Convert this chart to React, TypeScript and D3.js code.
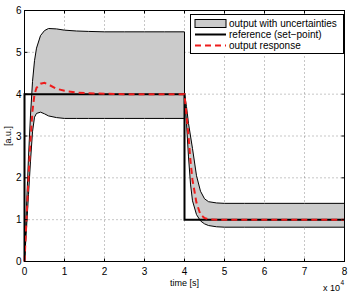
import React, { useRef, useEffect } from 'react';
import * as d3 from 'd3';

// time axis in units of 1e4 s
const bandTimes = [
  0, 0.05, 0.1, 0.15, 0.2, 0.25, 0.3, 0.4, 0.5, 0.6, 0.8, 1.0, 1.3, 1.6, 2.0, 2.5, 3.0, 3.5, 4.0,
  4.0, 4.05, 4.1, 4.15, 4.2, 4.3, 4.4, 4.5, 4.6, 4.8, 5.0, 5.5, 6.0, 7.0, 8.0,
];
const upperValues = [
  0, 1.3, 2.5, 3.5, 4.3, 4.8, 5.1, 5.4, 5.52, 5.57, 5.56, 5.53, 5.51, 5.5, 5.49, 5.49, 5.49, 5.49, 5.49,
  4.0, 3.7, 3.3, 3.0, 2.7, 2.05, 1.68, 1.5, 1.43, 1.4, 1.39, 1.39, 1.39, 1.39, 1.39,
];
const lowerValues = [
  0, 0.8, 1.6, 2.4, 3.1, 3.45, 3.54, 3.57, 3.53, 3.48, 3.44, 3.42, 3.42, 3.42, 3.42, 3.42, 3.42, 3.42, 3.42,
  4.0, 3.3, 2.5, 1.85, 1.45, 1.12, 0.97, 0.9, 0.86, 0.83, 0.82, 0.82, 0.82, 0.82, 0.82,
];
const outputValues = [
  0, 1.0, 2.0, 2.9, 3.6, 4.0, 4.15, 4.25, 4.27, 4.23, 4.13, 4.08, 4.04, 4.02, 4.01, 4.0, 4.0, 4.0, 4.0,
  4.0, 3.5, 3.0, 2.4, 1.95, 1.4, 1.12, 1.04, 1.01, 1.0, 1.0, 1.0, 1.0, 1.0, 1.0,
];

const refTimes = [0, 0, 4, 4, 8];
const refValues = [0, 4, 4, 1, 1];

const xTicks = [0, 1, 2, 3, 4, 5, 6, 7, 8];
const yTicks = [0, 1, 2, 3, 4, 5, 6];

const legendItems = [
  { label: 'output with uncertainties', kind: 'band' },
  { label: 'reference (set\u2212point)', kind: 'ref' },
  { label: 'output response', kind: 'out' },
];

const App: React.FC = () => {
  const svgRef = useRef<SVGSVGElement>(null);
  const width = 352;
  const height = 294;

  useEffect(() => {
    if (!svgRef.current) return;
    d3.select(svgRef.current).selectAll('*').remove();

    const svg = d3.select(svgRef.current);
    const font = '"Liberation Sans", Arial, sans-serif';

    const x = d3.scaleLinear().domain([0, 8]).range([24.5, 344.5]);
    const y = d3.scaleLinear().domain([0, 6]).range([261.5, 10.5]);

    const [x0, x1] = x.range();
    const [y0, y1] = y.range();

    // Grid
    const grid = svg.append('g');
    xTicks.slice(1, -1).forEach(t => {
      grid.append('line')
        .attr('x1', x(t)).attr('x2', x(t))
        .attr('y1', y0).attr('y2', y1)
        .attr('stroke', '#444').attr('stroke-width', 0.6)
        .attr('stroke-dasharray', '1,3');
    });
    yTicks.slice(1, -1).forEach(v => {
      grid.append('line')
        .attr('x1', x0).attr('x2', x1)
        .attr('y1', y(v)).attr('y2', y(v))
        .attr('stroke', '#444').attr('stroke-width', 0.6)
        .attr('stroke-dasharray', '1,3');
    });

    const idx = bandTimes.map((_, i) => i);

    // Uncertainty band
    const area = d3.area<number>()
      .x(i => x(bandTimes[i]))
      .y0(i => y(lowerValues[i]))
      .y1(i => y(upperValues[i]));
    svg.append('path')
      .attr('d', area(idx) || '')
      .attr('fill', '#cbcbcb');

    const bandLine = (vals: number[]) =>
      d3.line<number>().x(i => x(bandTimes[i])).y(i => y(vals[i]))(idx) || '';

    svg.append('path').attr('d', bandLine(upperValues))
      .attr('fill', 'none').attr('stroke', '#000').attr('stroke-width', 1);
    svg.append('path').attr('d', bandLine(lowerValues))
      .attr('fill', 'none').attr('stroke', '#000').attr('stroke-width', 1);

    // Reference
    const refLine = d3.line<number>()
      .x(i => x(refTimes[i]))
      .y(i => y(refValues[i]));
    svg.append('path')
      .attr('d', refLine(refTimes.map((_, i) => i)) || '')
      .attr('fill', 'none').attr('stroke', '#000').attr('stroke-width', 2);

    // Output response
    svg.append('path').attr('d', bandLine(outputValues))
      .attr('fill', 'none').attr('stroke', '#ee1c1c').attr('stroke-width', 2)
      .attr('stroke-dasharray', '6,4');

    // Frame
    svg.append('rect')
      .attr('x', x0).attr('y', y1)
      .attr('width', x1 - x0).attr('height', y0 - y1)
      .attr('fill', 'none').attr('stroke', '#000').attr('stroke-width', 1);

    // Ticks (inside, all sides)
    const tl = 3;
    xTicks.forEach(t => {
      svg.append('line').attr('x1', x(t)).attr('x2', x(t)).attr('y1', y0).attr('y2', y0 - tl)
        .attr('stroke', '#000').attr('stroke-width', 1);
      svg.append('line').attr('x1', x(t)).attr('x2', x(t)).attr('y1', y1).attr('y2', y1 + tl)
        .attr('stroke', '#000').attr('stroke-width', 1);
      svg.append('text')
        .attr('x', x(t)).attr('y', y0 + 13)
        .attr('text-anchor', 'middle')
        .attr('font-family', font).attr('font-size', 10)
        .text(t);
    });
    yTicks.forEach(v => {
      svg.append('line').attr('x1', x0).attr('x2', x0 + tl).attr('y1', y(v)).attr('y2', y(v))
        .attr('stroke', '#000').attr('stroke-width', 1);
      svg.append('line').attr('x1', x1).attr('x2', x1 - tl).attr('y1', y(v)).attr('y2', y(v))
        .attr('stroke', '#000').attr('stroke-width', 1);
      svg.append('text')
        .attr('x', x0 - 3).attr('y', y(v) + 3.5)
        .attr('text-anchor', 'end')
        .attr('font-family', font).attr('font-size', 10)
        .text(v);
    });

    // Axis labels
    svg.append('text')
      .attr('x', (x0 + x1) / 2).attr('y', 286)
      .attr('text-anchor', 'middle')
      .attr('font-family', font).attr('font-size', 9)
      .text('time [s]');
    svg.append('text')
      .attr('transform', `translate(11, ${(y0 + y1) / 2}) rotate(-90)`)
      .attr('text-anchor', 'middle')
      .attr('font-family', font).attr('font-size', 9)
      .text('[a.u.]');
    svg.append('text')
      .attr('x', 340).attr('y', 291)
      .attr('text-anchor', 'end')
      .attr('font-family', font).attr('font-size', 9)
      .text('x 10');
    svg.append('text')
      .attr('x', 340.5).attr('y', 285)
      .attr('font-family', font).attr('font-size', 6.5)
      .text('4');

    // Legend
    const legend = svg.append('g').attr('transform', 'translate(190.5, 14.5)');
    legend.append('rect')
      .attr('width', 153).attr('height', 39)
      .attr('fill', '#fff').attr('stroke', '#000').attr('stroke-width', 1);
    legendItems.forEach((item, i) => {
      const cy = 9 + i * 11;
      if (item.kind === 'band') {
        legend.append('rect')
          .attr('x', 4.5).attr('y', cy - 4).attr('width', 31).attr('height', 8)
          .attr('fill', '#cbcbcb').attr('stroke', '#000').attr('stroke-width', 1);
      } else {
        legend.append('line')
          .attr('x1', 4.5).attr('x2', 35.5).attr('y1', cy).attr('y2', cy)
          .attr('stroke', item.kind === 'ref' ? '#000' : '#ee1c1c')
          .attr('stroke-width', 2)
          .attr('stroke-dasharray', item.kind === 'out' ? '6,4' : null);
      }
      legend.append('text')
        .attr('x', 38.5).attr('y', cy + 3.5)
        .attr('font-family', font).attr('font-size', 10)
        .text(item.label);
    });
  }, []);

  return (
    <svg
      ref={svgRef}
      width={width}
      height={height}
      style={{ position: 'absolute', left: 0, top: 0, background: '#fff' }}
    ></svg>
  );
};

export default App;
